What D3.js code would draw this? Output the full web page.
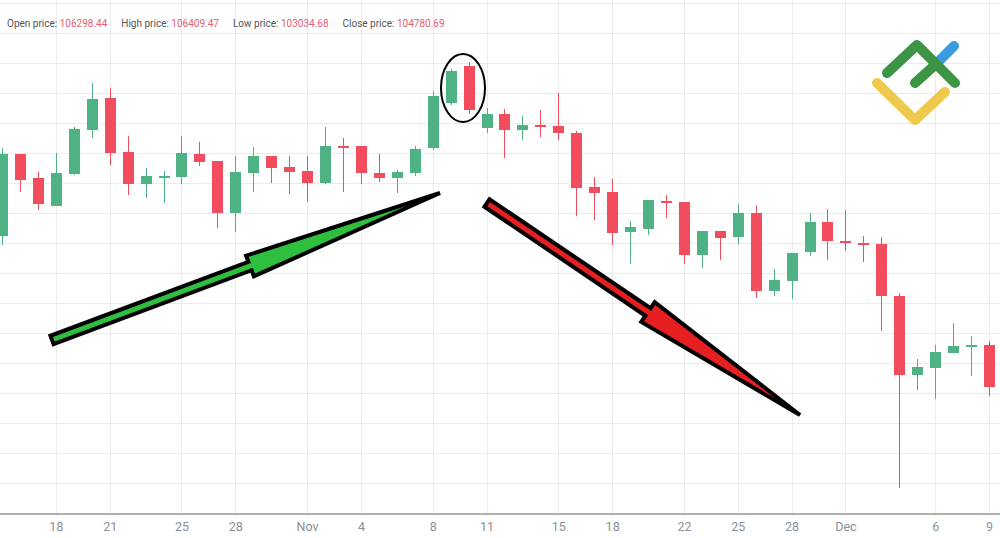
<!DOCTYPE html>
<html><head><meta charset="utf-8">
<script src="https://cdn.jsdelivr.net/npm/d3@7/dist/d3.min.js"></script>
<style>body{margin:0;background:#fff}svg{display:block}</style>
</head><body><svg id="c" width="1000" height="538"></svg>
<script>
const startDate = "2024-10-15";
const opens  = [110840,115760,114320,112640,114560,117200,119120,115880,113960,114380,114380,115760,115340,112220,114620,115640,114980,114740,114020,116240,116240,114620,114320,114620,116120,118820,121040,117320,118160,117200,117500,117440,117020,113780,113480,111080,111260,112940,112880,109700,111140,110780,112220,107540,108140,109880,111680,110540,110420,110360,107240,102500,102920,103820,104240,104300];
const highs  = [116120,115760,114680,115820,117380,120020,119720,116840,114920,114740,116840,116480,115340,115640,116180,115640,115640,115640,117380,116720,116240,115760,114800,116240,119540,120860,121280,118520,118460,118040,118400,119420,117140,114380,114260,111740,113000,113300,112880,111140,111140,112760,112700,108860,109820,112220,112460,112400,110840,110780,107420,103460,104300,105620,104840,104540];
const lows   = [110300,113480,112400,112640,114500,116720,115100,113300,113120,112820,113960,115040,111320,111080,113480,114020,113360,112880,113960,113480,113960,114080,113420,114440,116000,118700,118160,117020,115520,116600,116780,116600,112040,111800,110300,109160,110900,111920,109160,108920,109400,110360,107120,107240,107060,109640,109400,109940,109280,105140,95720,101600,101060,103820,102440,101240];
const closes = [115760,114200,112760,114620,117260,119060,115820,113960,114440,114440,115820,115280,112220,114680,115640,114920,114680,114020,116240,116180,114620,114320,114680,116060,119240,120740,118400,118160,117200,117500,117440,117020,113720,113420,111020,111380,113000,112880,109700,111140,110720,112220,107540,108200,109820,111680,110540,110480,110360,107240,102500,102980,103880,104240,104300,101780];
const tickDates  = ["2024-10-18","2024-10-21","2024-10-25","2024-10-28","2024-11-01","2024-11-04","2024-11-08","2024-11-11","2024-11-15","2024-11-18","2024-11-22","2024-11-25","2024-11-28","2024-12-01","2024-12-06","2024-12-09"];
const tickLabels = ["18","21","25","28","Nov","4","8","11","15","18","22","25","28","Dec","6","9"];
const headerLabels = ["Open price:","High price:","Low price:","Close price:"];
const headerValues = ["106298.44","106409.47","103034.68","104780.69"];

const svg = d3.select("#c");
const day = 864e5;
const t0 = new Date(startDate+"T00:00:00Z");
const dates = opens.map((_,i)=>new Date(+t0 + i*day));
const x = d3.scaleUtc().domain([dates[0], dates[dates.length-1]]).range([2, 989]);
const y = d3.scaleLinear().domain([92720,125000]).range([538,0]);
const GREEN="#4fb285", RED="#f24d5e";

const gridY = d3.range(3, 514, 30);
svg.append("g").selectAll("line").data(gridY).join("line")
  .attr("x1",0).attr("x2",1000).attr("y1",d=>d+0.5).attr("y2",d=>d+0.5)
  .attr("stroke","#ebebeb");
const tds = tickDates.map(d=>new Date(d+"T00:00:00Z"));
svg.append("g").selectAll("line").data(tds).join("line")
  .attr("x1",d=>Math.round(x(d))+0.5).attr("x2",d=>Math.round(x(d))+0.5)
  .attr("y1",0).attr("y2",514).attr("stroke","#ebebeb");

const ax = svg.append("g").attr("transform","translate(0,514)")
  .call(d3.axisBottom(x).tickValues(tds).tickFormat((d,i)=>tickLabels[i]).tickSize(0).tickPadding(8));
ax.select(".domain").attr("stroke","#999").attr("stroke-width",1.5).attr("d","M0,0H1000");
ax.selectAll("text").attr("fill","#8a8f99").attr("font-family","Roboto, sans-serif").attr("font-size",12.5);

const hdr = svg.append("text").attr("x",7).attr("y",27).attr("font-family","Roboto, sans-serif").attr("font-size",10);
headerLabels.forEach((l,i)=>{
  hdr.append("tspan").attr("fill","#555").attr("dx", i? 14:0).text(l+" ");
  hdr.append("tspan").attr("fill","#e06070").text(headerValues[i]);
});

const cw = 11;
const g = svg.append("g");
const idx = d3.range(opens.length);
g.selectAll("line").data(idx).join("line")
  .attr("x1",i=>Math.round(x(dates[i]))+0.5).attr("x2",i=>Math.round(x(dates[i]))+0.5)
  .attr("y1",i=>y(highs[i])).attr("y2",i=>y(lows[i]))
  .attr("stroke",i=>closes[i]>=opens[i]?GREEN:RED).attr("stroke-width",1);
g.selectAll("rect").data(idx).join("rect")
  .attr("x",i=>Math.round(x(dates[i]))+0.5-cw/2).attr("width",cw)
  .attr("y",i=>y(Math.max(opens[i],closes[i])))
  .attr("height",i=>Math.max(2,Math.abs(y(opens[i])-y(closes[i]))))
  .attr("fill",i=>closes[i]>=opens[i]?GREEN:RED);

svg.append("ellipse").attr("cx",463).attr("cy",88).attr("rx",22).attr("ry",34)
  .attr("fill","none").attr("stroke","#000").attr("stroke-width",2);

function arrow(x1,y1,xb,yb,x2,y2,hw,bw,color){
  const dx=x2-x1, dy=y2-y1, L=Math.hypot(dx,dy), nx=-dy/L, ny=dx/L;
  const pts=[[x1+nx*hw,y1+ny*hw],[xb+nx*hw,yb+ny*hw],[xb+nx*bw,yb+ny*bw],[x2,y2],
             [xb-nx*bw,yb-ny*bw],[xb-nx*hw,yb-ny*hw],[x1-nx*hw,y1-ny*hw]];
  svg.append("path").attr("d","M"+pts.map(p=>p.join(",")).join("L")+"Z")
    .attr("fill",color).attr("stroke","#000").attr("stroke-width",4).attr("stroke-linejoin","miter");
}
arrow(52,340,250,266,440,193,4.5,11,"#2fbf3f");
arrow(487,203,648,312,800,415,4.5,12,"#e62020");

const lg = svg.append("g").attr("fill","none").attr("stroke-linecap","round").attr("stroke-linejoin","round").attr("stroke-width",10);
lg.append("path").attr("d","M938,62L954,46").attr("stroke","#3a9be0");
lg.append("path").attr("d","M887,73L917,45L955,83").attr("stroke","#3c9444");
lg.append("path").attr("d","M915,83L935,65").attr("stroke","#3c9444");
lg.append("path").attr("d","M877,83L915,120L945,92").attr("stroke","#efc94c");
</script></body></html>
